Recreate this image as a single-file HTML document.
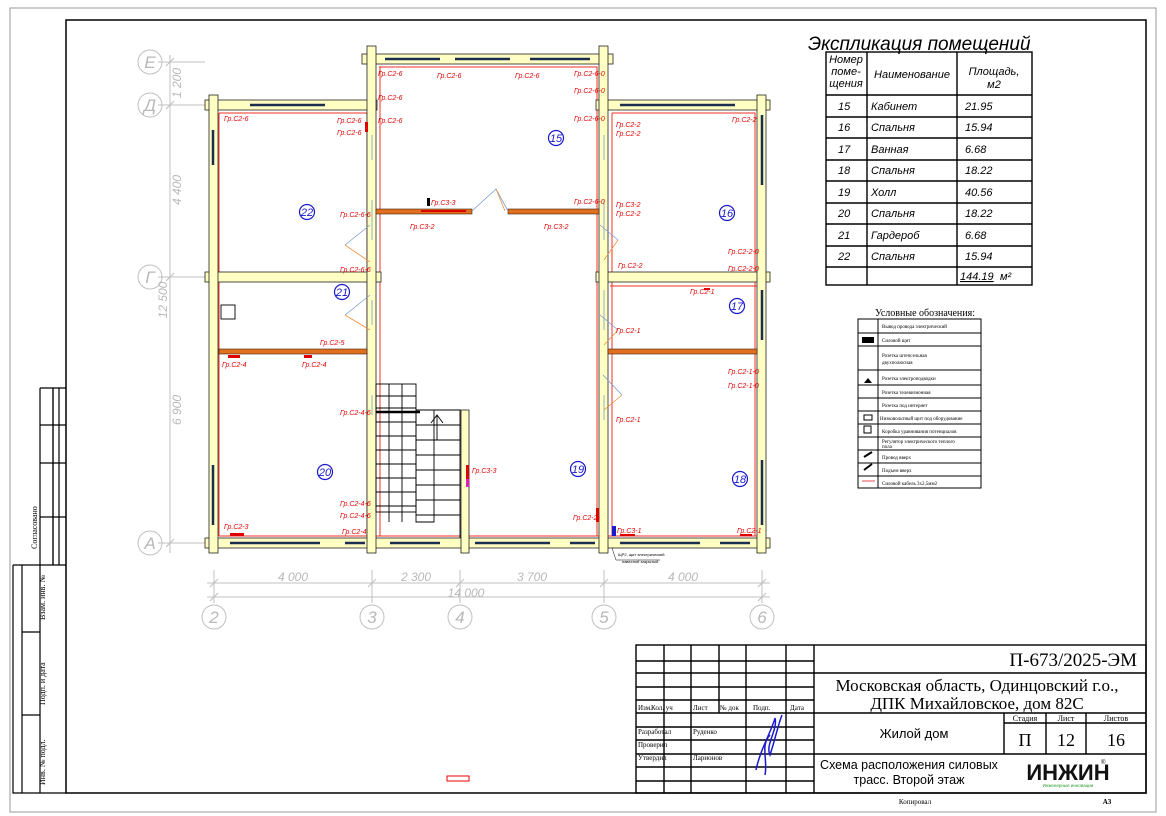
<!DOCTYPE html>
<html><head><meta charset="utf-8"><style>
html,body{margin:0;padding:0;background:#fff;}
svg{display:block;}
.s{font-family:"Liberation Serif",serif;}
.a{font-family:"Liberation Sans",sans-serif;}
.r{font-family:"Liberation Sans",sans-serif;font-size:7px;font-style:italic;fill:#e00000;}
.dim{font-family:"Liberation Sans",sans-serif;font-size:12px;font-style:italic;fill:#b8b8b8;}
.ax{font-family:"Liberation Sans",sans-serif;font-size:17px;font-style:italic;fill:#b8b8b8;}
.rn{font-family:"Liberation Sans",sans-serif;font-size:11px;font-style:italic;fill:#1a1acc;}
</style></head><body>
<svg width="1166" height="816" viewBox="0 0 1166 816" xmlns="http://www.w3.org/2000/svg">
<rect width="1166" height="816" fill="#fff"/>
<!-- page frame -->
<rect x="10" y="8" width="1146" height="804" fill="none" stroke="#999" stroke-width="1"/>
<rect x="66" y="20" width="1080" height="773" fill="none" stroke="#000" stroke-width="1.5"/>
<!-- left strip -->
<g stroke="#000" stroke-width="1.2" fill="none">
<path d="M40 388H66M40 388V793M13 565V793H66M13 565H66M53 388V565M40 425H66M40 463H66M40 517H66M22 565V793M22 632H40M22 715H40"/>
<path d="M53 388V565M59 388V565"/>
</g>
<text class="s" font-size="8" transform="translate(37,549) rotate(-90)">Согласовано</text>
<text class="s" font-size="8" transform="translate(45,620) rotate(-90)">Взам. инв. №</text>
<text class="s" font-size="8" transform="translate(45,705) rotate(-90)">Подп. и дата</text>
<text class="s" font-size="8" transform="translate(45,785) rotate(-90)">Инв. № подл.</text>

<!-- title block -->
<g stroke="#000" stroke-width="1.4" fill="none">
<rect x="636" y="645" width="510" height="148"/>
<path d="M636 661H814M636 673H814M636 687H814M636 700H814M636 713H1146M636 727H814M636 740H814M636 754H1146M636 767H814M636 781H814"/>
<path d="M664 645V793M691 645V793M719 645V713M746 645V793M786 645V793M814 645V793"/>
<path d="M814 673H1146M1004 713V754M1046 713V754M1086 713V754M1004 723H1146"/>
</g>
<text class="s" font-size="19" x="1137" y="666" text-anchor="end">П-673/2025-ЭМ</text>
<text class="s" font-size="17" x="977" y="691" text-anchor="middle">Московская область, Одинцовский г.о.,</text>
<text class="s" font-size="17" x="977" y="709" text-anchor="middle">ДПК Михайловское, дом 82С</text>
<text class="a" font-size="13" x="914" y="738" text-anchor="middle">Жилой дом</text>
<text class="a" font-size="12.5" x="909" y="769" text-anchor="middle">Схема расположения силовых</text>
<text class="a" font-size="12.5" x="909" y="784" text-anchor="middle">трасс. Второй этаж</text>
<text class="s" font-size="8" x="1025" y="721" text-anchor="middle">Стадия</text>
<text class="s" font-size="8" x="1066" y="721" text-anchor="middle">Лист</text>
<text class="s" font-size="8" x="1116" y="721" text-anchor="middle">Листов</text>
<text class="s" font-size="18" x="1025" y="746" text-anchor="middle">П</text>
<text class="s" font-size="18" x="1066" y="746" text-anchor="middle">12</text>
<text class="s" font-size="18" x="1125" y="746" text-anchor="end">16</text>
<text class="a" font-size="22" font-weight="bold" x="1068" y="780" text-anchor="middle" fill="#111">ИНЖИН</text>
<text class="a" font-size="6" x="1101" y="764">®</text>
<text class="a" font-size="4.5" x="1068" y="787" text-anchor="middle" fill="#2a9a2a">Инженерные инновации</text>
<text class="s" font-size="7" x="638" y="710">Изм.</text><text class="s" font-size="7" x="651" y="710">Кол. уч</text>
<text class="s" font-size="7" x="693" y="710">Лист</text><text class="s" font-size="7" x="720" y="710">№ док</text>
<text class="s" font-size="7" x="753" y="710">Подп.</text><text class="s" font-size="7" x="790" y="710">Дата</text>
<text class="s" font-size="7" x="638" y="734">Разработал</text><text class="s" font-size="7" x="693" y="734">Руденко</text>
<text class="s" font-size="7" x="638" y="747">Проверил</text>
<text class="s" font-size="7" x="638" y="760">Утвердил</text><text class="s" font-size="7" x="693" y="760">Ларионов</text>
<text class="s" font-size="7" x="915" y="804" text-anchor="middle">Копировал</text>
<text class="s" font-size="7" font-weight="bold" x="1107" y="804" text-anchor="middle">А3</text>
<path d="M756 770C760 750 772 730 775 718C778 730 765 745 770 755C775 740 778 725 782 715M765 775C768 760 760 745 770 735" stroke="#1a1ad0" stroke-width="1.5" fill="none"/>
<rect x="447" y="776" width="22" height="5" fill="none" stroke="#e00" stroke-width="1"/>

<!-- explication -->
<text class="a" font-size="19" font-style="italic" x="808" y="50">Экспликация помещений</text>
<g stroke="#000" stroke-width="1.4" fill="none">
<rect x="826" y="52" width="206" height="233"/>
<path d="M826 95H1032M826 117H1032M826 138H1032M826 160H1032M826 181H1032M826 203H1032M826 224H1032M826 246H1032M826 267H1032"/>
<path d="M867 52V285M957 52V285"/>
</g>
<g class="a" font-size="11" font-style="italic">
<text x="846" y="63" text-anchor="middle">Номер</text><text x="846" y="75" text-anchor="middle">поме-</text><text x="846" y="87" text-anchor="middle">щения</text>
<text x="912" y="78" text-anchor="middle">Наименование</text>
<text x="994" y="75" text-anchor="middle">Площадь,</text><text x="994" y="88" text-anchor="middle">м2</text>
<text x="838" y="110">15</text><text x="871" y="110">Кабинет</text><text x="965" y="110">21.95</text>
<text x="838" y="131">16</text><text x="871" y="131">Спальня</text><text x="965" y="131">15.94</text>
<text x="838" y="153">17</text><text x="871" y="153">Ванная</text><text x="965" y="153">6.68</text>
<text x="838" y="174">18</text><text x="871" y="174">Спальня</text><text x="965" y="174">18.22</text>
<text x="838" y="196">19</text><text x="871" y="196">Холл</text><text x="965" y="196">40.56</text>
<text x="838" y="217">20</text><text x="871" y="217">Спальня</text><text x="965" y="217">18.22</text>
<text x="838" y="239">21</text><text x="871" y="239">Гардероб</text><text x="965" y="239">6.68</text>
<text x="838" y="260">22</text><text x="871" y="260">Спальня</text><text x="965" y="260">15.94</text>
<text x="960" y="280" text-decoration="underline">144.19</text><text x="1000" y="280">м²</text>
</g>

<!-- legend -->
<text class="s" font-size="10" x="925" y="316" text-anchor="middle">Условные обозначения:</text>
<g stroke="#000" stroke-width="1" fill="none">
<rect x="858" y="319" width="123" height="169"/>
<path d="M858 333H981M858 346H981M858 370H981M858 385H981M858 398H981M858 411H981M858 424H981M858 437H981M858 450H981M858 463H981M858 476H981M878 319V488"/>
</g>
<g class="s" font-size="5">
<text x="882" y="328">Вывод провода электрический</text>
<text x="882" y="342">Силовой щит</text>
<text x="882" y="357">Розетка штепсельная</text><text x="882" y="364">двухполюсная</text>
<text x="882" y="380">Розетка электроподводки</text>
<text x="882" y="394">Розетка телевизионная</text>
<text x="882" y="407">Розетка под интернет</text>
<text x="880" y="420">Низковольтный щит под оборудование</text>
<text x="882" y="433">Коробка уравнивания потенциалов</text>
<text x="882" y="443">Регулятор электрического теплого</text><text x="882" y="448">пола</text>
<text x="882" y="459">Провод вверх</text>
<text x="882" y="472">Подъем вверх</text>
<text x="882" y="485">Силовой кабель 3х2,5мм2</text>
</g>
<g fill="#000"><rect x="862" y="337" width="12" height="6"/><path d="M864 383h8l-4-5z"/><path d="M864 457l8-5M864 470l8-6" stroke="#000" stroke-width="2"/><rect x="864" y="415" width="8" height="5" fill="none" stroke="#000"/><rect x="864" y="426" width="7" height="7" fill="none" stroke="#000"/></g>
<path d="M862 481H875" stroke="#e88" stroke-width="1.5"/>

<!-- dimension lines -->
<g stroke="#c0c0c0" stroke-width="1" fill="none">
<path d="M170 55V553M158 62H205M158 105H205M158 277H205M158 543H205"/>
<path d="M214 570V603M372 570V603M460 570V603M604 570V603M762 570V603M207 583H770M207 597H770"/>
<path d="M166 66l8-8M166 109l8-8M166 281l8-8M166 547l8-8M210 587l8-8M368 587l8-8M456 587l8-8M600 587l8-8M758 587l8-8M210 601l8-8M758 601l8-8"/>
<circle cx="150" cy="62" r="12"/><circle cx="150" cy="105" r="12"/><circle cx="150" cy="277" r="12"/><circle cx="150" cy="543" r="12"/>
<circle cx="214" cy="617" r="12"/><circle cx="372" cy="617" r="12"/><circle cx="460" cy="617" r="12"/><circle cx="604" cy="617" r="12"/><circle cx="762" cy="617" r="12"/>
<path d="M162 62H205M162 105H205M162 277H205M162 543H205"/>
</g>
<g class="ax" text-anchor="middle">
<text x="150" y="68">Е</text><text x="150" y="111">Д</text><text x="150" y="283">Г</text><text x="150" y="549">А</text>
<text x="214" y="623">2</text><text x="372" y="623">3</text><text x="460" y="623">4</text><text x="604" y="623">5</text><text x="762" y="623">6</text>
</g>
<g class="dim" text-anchor="middle">
<text transform="translate(181,83) rotate(-90)">1 200</text>
<text transform="translate(181,190) rotate(-90)">4 400</text>
<text transform="translate(167,300) rotate(-90)">12 500</text>
<text transform="translate(181,410) rotate(-90)">6 900</text>
<text x="293" y="581">4 000</text><text x="416" y="581">2 300</text><text x="532" y="581">3 700</text><text x="683" y="581">4 000</text><text x="466" y="597">14 000</text>
</g>

<!-- red routes -->
<g stroke="#f03020" stroke-width="1" fill="none">
<path d="M379 67H597V536M380 67V536M219 113H367V536M219 536H757M612 113H755V536M612 113V536M610 286H757M219 113V536"/>
</g>

<!-- walls -->
<g fill="#ffffc4" stroke="#222" stroke-width="0.8">
<rect x="362" y="54" width="251" height="10"/>
<rect x="205" y="100" width="172" height="10"/>
<rect x="596" y="100" width="174" height="10"/>
<rect x="205" y="272" width="176" height="10"/>
<rect x="596" y="272" width="174" height="10"/>
<rect x="205" y="538" width="565" height="10"/>
<rect x="209" y="95" width="9" height="458"/>
<rect x="367" y="46" width="9" height="507"/>
<rect x="599" y="46" width="9" height="507"/>
<rect x="757" y="95" width="9" height="458"/>
<rect x="461" y="410" width="8" height="143"/>
</g>
<!-- windows -->
<g stroke="#1c2e50" stroke-width="2.5">
<path d="M385 59H440M455 59H510M530 59H590M250 105H325M620 105H735M213 130V165M213 465V525M762 115V185M762 290V340M762 460V525M230 543H320M345 543H365M390 543H440M475 543H550M570 543H595M620 543H700M720 543H750"/>
</g>
<g stroke="#7a9ad0" stroke-width="0.8" fill="none">
<path d="M372 135V160M372 200V240M372 300V325M604 135V160M604 200V240M604 290V330M604 395V420M372 395V415"/>
</g>
<!-- partitions -->
<g fill="#e07020" stroke="#402010" stroke-width="0.6">
<rect x="376" y="209" width="96" height="5"/><rect x="508" y="209" width="91" height="5"/>
<rect x="219" y="349" width="148" height="5"/>
<rect x="608" y="349" width="149" height="5"/>
</g>
<!-- doors -->
<g stroke="#7a9ad0" stroke-width="0.8" fill="none">
<path d="M472 211L496 189L508 211M345 245L370 225M345 315L370 295M618 240L600 225M618 330L600 315M622 395L603 375"/>
</g>
<g stroke="#f09040" stroke-width="0.8" fill="none">
<path d="M496 189L505 211M345 245L370 262M345 315L370 330M618 240L604 260M618 330L604 345M622 395L604 410"/>
</g>
<!-- stairs -->
<g stroke="#000" stroke-width="0.9" fill="none">
<rect x="376" y="384" width="40" height="128"/>
<path d="M389 384V522M402 384V522M376 396H416M376 408H416M376 422H416M376 436H416M376 450H416M376 464H416M376 478H416M376 492H416M376 506H416"/>
<path d="M416 410H460V538M416 410V522H434V410M416 425H460M416 440H460M416 455H460M416 470H460M416 485H460M416 500H460M416 515H460"/>
<path d="M376 412H420" stroke-width="2.5"/>
<path d="M431 423l6-8 6 8M437 415V440"/>
<rect x="221" y="305" width="14" height="14"/>
</g>
<rect x="612" y="526" width="4" height="10" fill="#1a1acc"/>
<rect x="427" y="198" width="3" height="8" fill="#000"/>
<rect x="466" y="477" width="3" height="10" fill="#e020c0"/>

<!-- room numbers -->
<g stroke="#1a1acc" stroke-width="1.2" fill="none">
<circle cx="556" cy="138" r="7.5"/><circle cx="727" cy="213" r="7.5"/><circle cx="737" cy="306" r="7.5"/><circle cx="740" cy="479" r="7.5"/><circle cx="578" cy="469" r="7.5"/><circle cx="325" cy="472" r="7.5"/><circle cx="342" cy="292" r="7.5"/><circle cx="307" cy="212" r="7.5"/>
</g>
<g class="rn" text-anchor="middle">
<text x="556" y="142">15</text><text x="727" y="217">16</text><text x="737" y="310">17</text><text x="740" y="483">18</text><text x="578" y="473">19</text><text x="325" y="476">20</text><text x="342" y="296">21</text><text x="307" y="216">22</text>
</g>

<!-- red labels -->
<g class="r">
<text x="378" y="76">Гр.С2-6</text><text x="437" y="78">Гр.С2-6</text><text x="515" y="78">Гр.С2-6</text><text x="574" y="76">Гр.С2-6-0</text>
<text x="378" y="100">Гр.С2-6</text><text x="574" y="93">Гр.С2-6-0</text>
<text x="224" y="121">Гр.С2-6</text><text x="337" y="123">Гр.С2-6</text><text x="378" y="123">Гр.С2-6</text><text x="337" y="135">Гр.С2-6</text>
<text x="574" y="121">Гр.С2-6-0</text><text x="616" y="127">Гр.С2-2</text><text x="616" y="136">Гр.С2-2</text><text x="732" y="122">Гр.С2-2</text>
<text x="431" y="205">Гр.С3-3</text><text x="574" y="204">Гр.С2-6-0</text><text x="616" y="207">Гр.С3-2</text><text x="616" y="216">Гр.С2-2</text>
<text x="340" y="217">Гр.С2-6-6</text><text x="410" y="229">Гр.С3-2</text><text x="544" y="229">Гр.С3-2</text>
<text x="728" y="254">Гр.С2-2-0</text><text x="728" y="271">Гр.С2-2-0</text><text x="340" y="272">Гр.С2-6-6</text><text x="618" y="268">Гр.С2-2</text>
<text x="690" y="294">Гр.С2-1</text><text x="320" y="345">Гр.С2-5</text><text x="222" y="367">Гр.С2-4</text><text x="302" y="367">Гр.С2-4</text>
<text x="616" y="333">Гр.С2-1</text><text x="728" y="374">Гр.С2-1-0</text><text x="728" y="388">Гр.С2-1-0</text><text x="616" y="422">Гр.С2-1</text>
<text x="340" y="415">Гр.С2-4-6</text><text x="472" y="473">Гр.С3-3</text><text x="340" y="506">Гр.С2-4-6</text><text x="340" y="518">Гр.С2-4-6</text>
<text x="224" y="529">Гр.С2-3</text><text x="342" y="534">Гр.С2-4</text><text x="573" y="520">Гр.С2-2-</text><text x="617" y="533">Гр.С3-1</text><text x="737" y="533">Гр.С2-1</text>
</g>
<g fill="#e00000">
<rect x="421" y="210" width="45" height="2"/><rect x="228" y="355" width="12" height="3"/><rect x="304" y="355" width="8" height="3"/><rect x="230" y="533" width="14" height="3"/><rect x="466" y="465" width="3" height="14"/><rect x="596" y="508" width="3" height="14"/><rect x="620" y="534" width="15" height="2"/><rect x="740" y="534" width="12" height="2"/><rect x="704" y="288" width="6" height="2"/><rect x="365" y="122" width="3" height="10"/>
</g>
<text class="a" font-size="4" x="618" y="556">ЩР2, щит электрический</text>
<text class="a" font-size="4" x="622" y="563">навесной закрытый</text>
<path d="M612 548L616 560H660" stroke="#000" stroke-width="0.5" fill="none"/>
</svg>
</body></html>
